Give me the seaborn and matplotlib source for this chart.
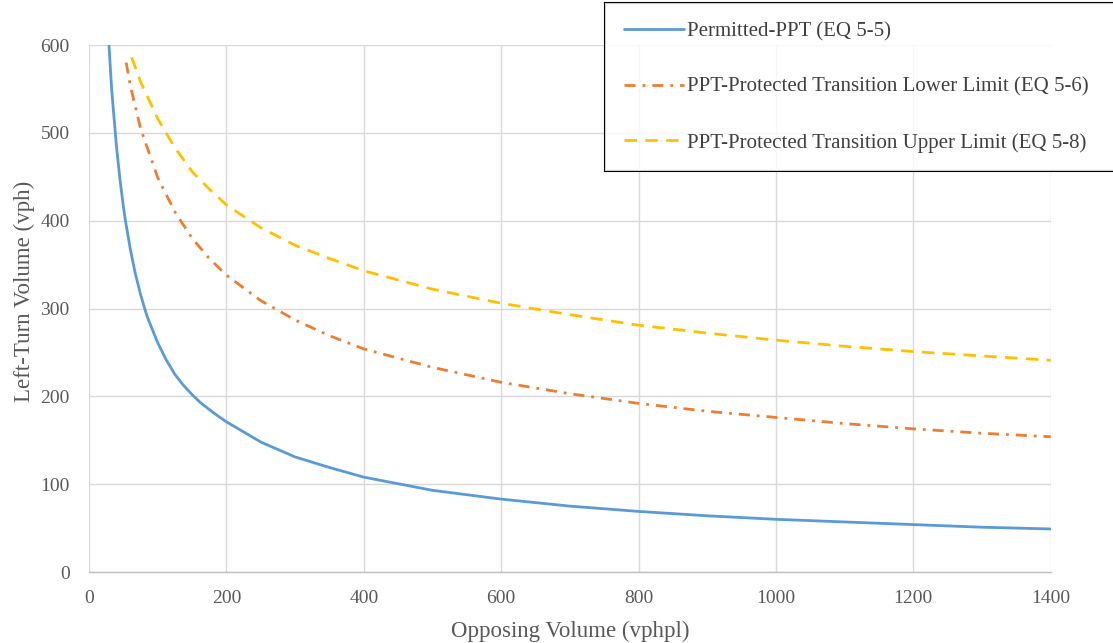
import matplotlib
matplotlib.use("Agg")
import matplotlib.pyplot as plt
from matplotlib.lines import Line2D
import seaborn as sns
import pandas as pd

# Data
perm_x = [29, 31, 33, 35, 40, 45, 50, 53, 60, 67, 75, 81, 85, 100, 112, 125, 137,
          150, 162, 175, 187, 200, 250, 300, 350, 400, 500, 600, 700, 800, 900,
          1000, 1100, 1200, 1300, 1400]
perm_y = [600, 574, 549, 530, 484, 447, 416, 400, 368, 341, 316, 300, 290, 261, 242,
          225, 213, 202, 193, 185, 178, 171, 148, 131, 119, 108, 93, 83, 75, 69, 64,
          60, 57, 54, 51, 49]

lower_x = [54, 60, 75, 100, 125, 150, 175, 200, 250, 300, 350, 400, 500, 600, 700,
           800, 900, 1000, 1100, 1200, 1300, 1400]
lower_y = [580, 554, 505, 449, 410, 380, 357, 338, 309, 287, 269, 254, 233, 216, 203,
           192, 183, 176, 169, 163, 158, 154]

upper_x = [62, 75, 100, 125, 150, 175, 200, 250, 300, 350, 400, 500, 600, 700,
           800, 900, 1000, 1100, 1200, 1300, 1400]
upper_y = [586, 558, 516, 483, 456, 436, 418, 392, 372, 357, 343, 322, 306, 293,
           281, 272, 264, 257, 251, 246, 241]

labels = ["Permitted-PPT (EQ 5-5)",
          "PPT-Protected Transition Lower Limit (EQ 5-6)",
          "PPT-Protected Transition Upper Limit (EQ 5-8)"]
x_ticks = [0, 200, 400, 600, 800, 1000, 1200, 1400]
y_ticks = [0, 100, 200, 300, 400, 500, 600]

sns.set_theme(style="white")
plt.rcParams['font.family'] = ['Liberation Serif', 'DejaVu Serif']

fig = plt.figure(figsize=(11.13, 6.43), dpi=100)
ax = fig.add_axes([0.080, 0.1104, 0.864, 0.8196])

df1 = pd.DataFrame({"x": perm_x, "y": perm_y})
df2 = pd.DataFrame({"x": lower_x, "y": lower_y})
df3 = pd.DataFrame({"x": upper_x, "y": upper_y})

sns.lineplot(data=df1, x="x", y="y", ax=ax, color="#5B9BD5", linewidth=2.0,
             label=labels[0])
sns.lineplot(data=df2, x="x", y="y", ax=ax, color="#ED7D31", linewidth=2.0,
             label=labels[1])
sns.lineplot(data=df3, x="x", y="y", ax=ax, color="#FFC000", linewidth=2.0,
             label=labels[2])
lines = ax.get_lines()
lines[1].set_dashes([4, 2.5, 1, 2.5])
lines[2].set_dashes([4.5, 3])

ax.set_xlim(0, 1400)
ax.set_ylim(0, 600)
ax.set_xticks(x_ticks)
ax.set_yticks(y_ticks)
ax.grid(True, color="#D9D9D9", linewidth=1.0)
ax.set_axisbelow(True)
for s in ["top", "right", "left"]:
    ax.spines[s].set_visible(False)
ax.spines["bottom"].set_color("#BFBFBF")
ax.spines["bottom"].set_linewidth(1.0)
ax.tick_params(axis="both", length=0, labelsize=14, labelcolor="#595959")
ax.tick_params(axis="x", pad=13)
ax.tick_params(axis="y", pad=14)

ax.set_xlabel("Opposing Volume (vphpl)", fontsize=16.5, color="#595959", labelpad=10)
ax.set_ylabel("Left-Turn Volume (vph)", fontsize=16.5, color="#595959")
ax.yaxis.set_label_coords(-0.056, 0.533)

ax.get_legend().remove()
leg = fig.legend(handles=lines, labels=labels, loc="upper left",
                 bbox_to_anchor=(0.5436, 0.995, 0.60, 0.0), mode="expand",
                 frameon=True, fancybox=False,
                 fontsize=15, handlelength=2.9, handletextpad=0.15,
                 labelspacing=1.72, borderpad=0.9, borderaxespad=0)
leg.get_frame().set_facecolor("white")
leg.get_frame().set_edgecolor("none")
for t in leg.get_texts():
    t.set_color("#404040")

# Open-right border around the legend (its right side runs off the figure)
fig.canvas.draw()
bb = leg.get_window_extent().transformed(fig.transFigure.inverted())
x0, y0, y1 = bb.x0, bb.y0, bb.y1
for xs, ys in [([x0, 1.01], [y1, y1]), ([x0, 1.01], [y0, y0]), ([x0, x0], [y0, y1])]:
    fig.add_artist(Line2D(xs, ys, transform=fig.transFigure, color="black",
                          linewidth=1.5, solid_capstyle="projecting"))

fig.savefig("out.png", dpi=100)
